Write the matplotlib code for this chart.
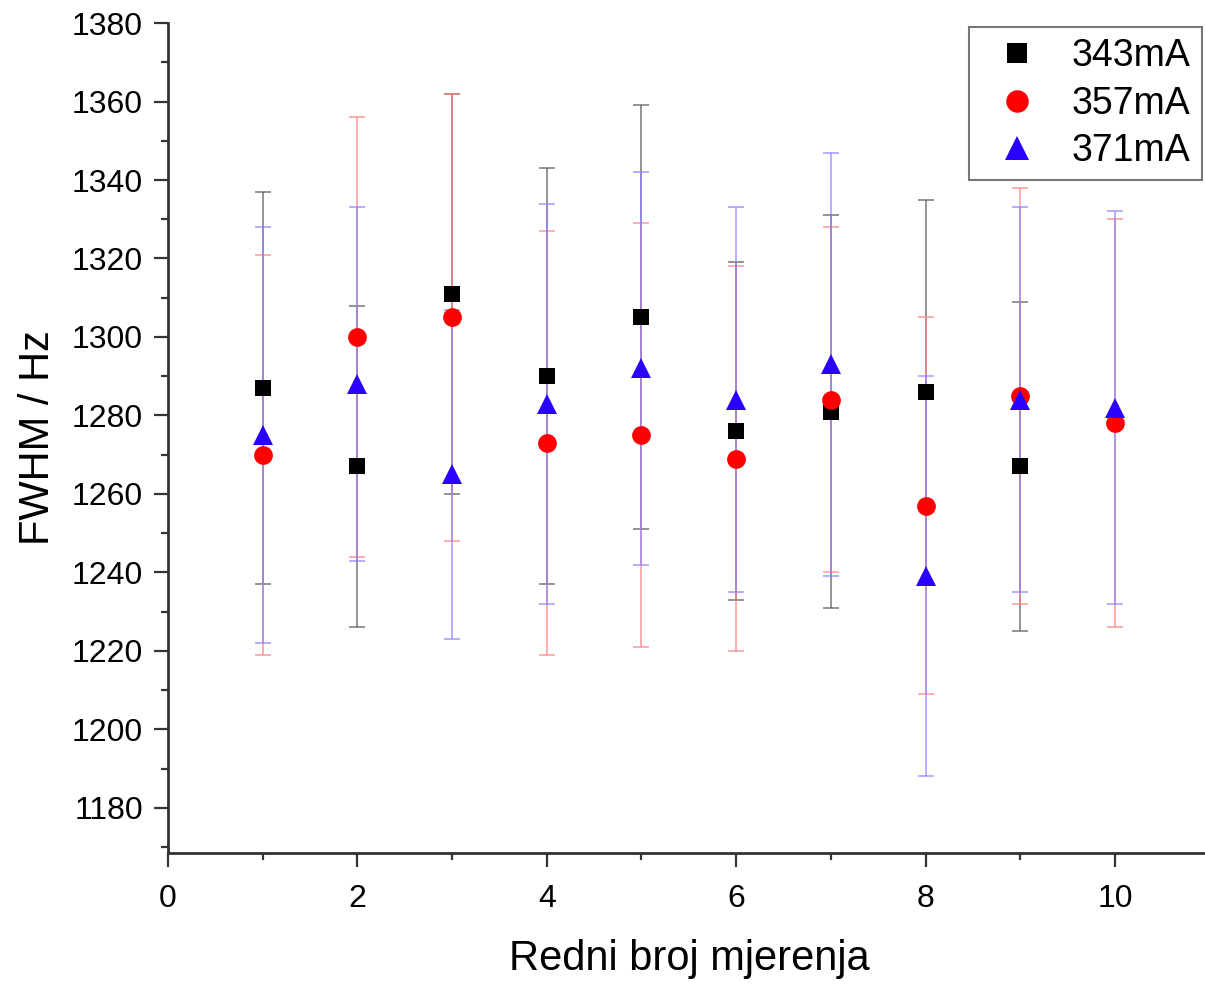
import numpy as np
import matplotlib
matplotlib.use("Agg")
import matplotlib.pyplot as plt
from matplotlib.ticker import MultipleLocator

plt.rcParams["font.family"] = ["Liberation Sans", "DejaVu Sans"]

# Redni broj mjerenja
mjerenja_343 = [1, 2, 3, 4, 5, 6, 7, 8, 9]
mjerenja_357 = [1, 2, 3, 4, 5, 6, 7, 8, 9, 10]
mjerenja_371 = [1, 2, 3, 4, 5, 6, 7, 8, 9, 10]

# FWHM / Hz
fwhm_343 = [1287, 1267, 1311, 1290, 1305, 1276, 1281, 1286, 1267]
fwhm_357 = [1270, 1300, 1305, 1273, 1275, 1269, 1284, 1257, 1285, 1278]
fwhm_371 = [1275, 1288, 1265, 1283, 1292, 1284, 1293, 1239, 1284, 1282]

# pogreske
err_343 = [50, 41, 51, 53, 54, 43, 50, 49, 42]
err_357 = [51, 56, 57, 54, 54, 49, 44, 48, 53, 52]
err_371 = [53, 45, 42, 51, 50, 49, 54, 51, 49, 50]

serije = [
    (mjerenja_343, fwhm_343, err_343, "343mA", "s", 12, "black", "#555555"),
    (mjerenja_357, fwhm_357, err_357, "357mA", "o", 13.5, "red", "#ff8080"),
    (mjerenja_371, fwhm_371, err_371, "371mA", "^", 14, "#2a00ff", "#8a80ff"),
]

fig = plt.figure(figsize=(12.05, 9.89), dpi=100)
ax = fig.add_axes([0.1394, 0.1375, 0.8645, 0.8392])

for x, y, e, ime, mk, ms, boja, boja_err in serije:
    ax.errorbar(x, y, yerr=e, fmt="none", ecolor=boja_err, elinewidth=1.1,
                capsize=5.5, capthick=1.1, alpha=0.8, zorder=2)
for x, y, e, ime, mk, ms, boja, boja_err in serije:
    ax.plot(x, y, linestyle="none", marker=mk, markersize=ms, color=boja,
            markeredgewidth=0, label=ime, zorder=3)

ax.set_xlim(0, 11)
ax.set_ylim(1168.5, 1380)
ax.xaxis.set_major_locator(MultipleLocator(2))
ax.xaxis.set_minor_locator(MultipleLocator(1))
ax.yaxis.set_major_locator(MultipleLocator(20))
ax.yaxis.set_minor_locator(MultipleLocator(10))

for s in ["top", "right"]:
    ax.spines[s].set_visible(False)
for s in ["left", "bottom"]:
    ax.spines[s].set_linewidth(2)
    ax.spines[s].set_color("#333333")

ax.tick_params(which="major", direction="out", length=10, width=1.6,
               color="#333333", labelsize=23, pad=8)
ax.tick_params(axis="x", which="major", pad=12)
ax.tick_params(which="minor", direction="out", length=5, width=1.6,
               color="#333333")

ax.set_xlabel("Redni broj mjerenja", fontsize=30, labelpad=18)
ax.set_ylabel("FWHM / Hz", fontsize=30, labelpad=10)

leg = ax.legend(loc="upper right", bbox_to_anchor=(0.9926, 0.995),
                borderaxespad=0, fontsize=27, frameon=True, fancybox=False,
                edgecolor="#555555", handletextpad=0.45, labelspacing=0.3,
                borderpad=0.3, handlelength=2.0, markerscale=1.2)
leg.get_frame().set_linewidth(1.5)

fig.savefig("out.png", dpi=100)
